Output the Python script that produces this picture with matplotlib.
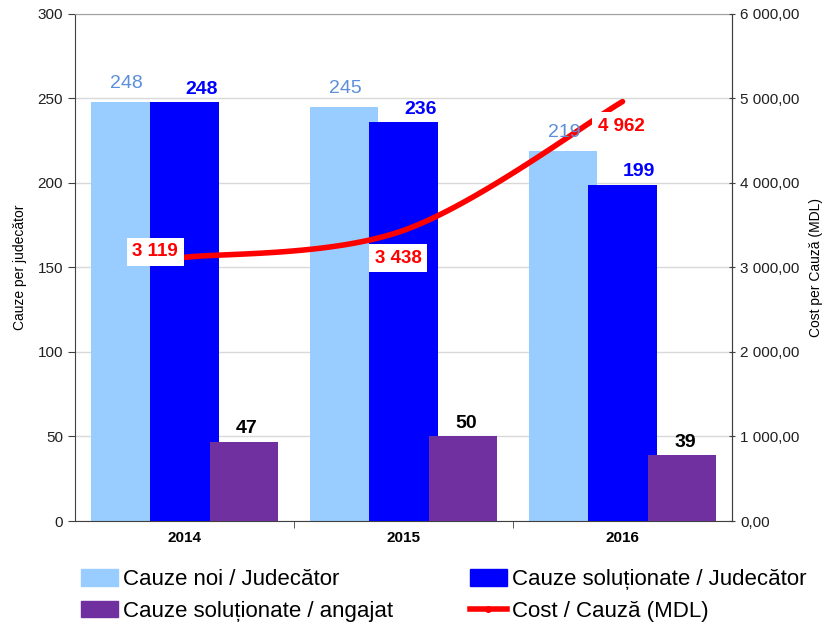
import numpy as np
import matplotlib
matplotlib.use("Agg")
from matplotlib import pyplot as plt
from matplotlib.patches import Patch
from matplotlib.lines import Line2D

plt.rcParams['font.family'] = ['Liberation Sans', 'DejaVu Sans']

years = ['2014', '2015', '2016']
cauze_noi = [248, 245, 219]
cauze_solutionate = [248, 236, 199]
cauze_angajat = [47, 50, 39]
cost_cauza = [3119, 3438, 4962]

c_light = '#99CCFF'
c_dark = '#0000FF'
c_purple = '#7030A0'
c_red = '#FF0000'


def smooth_curve(xs, ys, n=60):
    # bezier segments with catmull-rom style handles (tension 1/6)
    pts = np.column_stack([xs, ys]).astype(float)
    out = []
    for i in range(len(pts) - 1):
        p_prev = pts[max(i - 1, 0)]
        p0, p1 = pts[i], pts[i + 1]
        p_next = pts[min(i + 2, len(pts) - 1)]
        c1 = p0 + (p1 - p_prev) / 6
        c2 = p1 - (p_next - p0) / 6
        t = np.linspace(0, 1, n)[:, None]
        seg = ((1 - t) ** 3) * p0 + 3 * ((1 - t) ** 2) * t * c1 + 3 * (1 - t) * t ** 2 * c2 + t ** 3 * p1
        out.append(seg if i == 0 else seg[1:])
    out = np.vstack(out)
    return out[:, 0], out[:, 1]


fig = plt.figure(figsize=(8.29, 6.3), dpi=100)
ax = fig.add_axes([0.0905, 0.173, 0.7925, 0.805])
ax2 = ax.twinx()

x = np.arange(len(years))
w = 0.313
off = 0.272
ax.bar(x - off, cauze_noi, w, color=c_light, zorder=2)
ax.bar(x, cauze_solutionate, w, color=c_dark, zorder=3)
ax.bar(x + off, cauze_angajat, w, color=c_purple, zorder=4)

ax.set_xlim(-0.5, 2.5)
ax.set_ylim(0, 300)
ax.set_yticks(range(0, 301, 50))
ax.set_xticks(x)
ax.set_xticklabels(years, fontweight='bold', fontsize=11)
ax.set_xticks([0.5, 1.5], minor=True)
ax.tick_params(axis='x', which='major', length=0, pad=7)
ax.tick_params(axis='x', which='minor', length=5, direction='out', color='#404040')
ax.tick_params(axis='y', length=5, direction='out', labelsize=11, color='#404040', labelcolor='#202020')
ax.yaxis.grid(True, color='#D9D9D9', linewidth=1)
ax.set_axisbelow(True)
ax.set_ylabel('Cauze per judecător', fontsize=10, labelpad=8)

for s in ['left', 'bottom', 'right']:
    ax.spines[s].set_color('#404040')
ax.spines['top'].set_color('#A0A0A0')
ax2.spines['right'].set_color('#404040')
ax2.spines['top'].set_visible(False)
ax2.spines['left'].set_visible(False)
ax2.spines['bottom'].set_visible(False)

# cost line on the right axis
lx, ly = smooth_curve(x, cost_cauza)
ax2.plot(lx, ly, color=c_red, linewidth=4, solid_capstyle='round', zorder=3)
ax2.set_ylim(0, 6000)
ax2.set_yticks(range(0, 6001, 1000))
ax2.set_yticklabels([f"{v:,.2f}".replace(',', ' ').replace('.', ',') for v in range(0, 6001, 1000)])
ax2.tick_params(axis='y', length=5, direction='inout', labelsize=11, color='#404040', labelcolor='#202020')
ax2.set_ylabel('Cost per Cauză (MDL)', fontsize=10, rotation=90, labelpad=7)

# bar value labels (drawn on ax2 so they sit above the line)
k = 6000 / 300
for i in range(len(years)):
    ax2.annotate(str(cauze_noi[i]), (x[i] - off, cauze_noi[i] * k), xytext=(1, 7),
                 textcoords='offset points', ha='center', va='bottom', fontsize=14,
                 color='#5B8FD9', zorder=5)
    ax2.annotate(str(cauze_solutionate[i]), (x[i], cauze_solutionate[i] * k), xytext=(12, 3),
                 textcoords='offset points', ha='center', va='bottom', fontsize=14,
                 color=c_dark, fontweight='bold', zorder=5)
    ax2.annotate(str(cauze_angajat[i]), (x[i] + off, cauze_angajat[i] * k), xytext=(2, 3),
                 textcoords='offset points', ha='center', va='bottom', fontsize=14,
                 color='black', fontweight='bold', zorder=5)

# cost labels
cost_offsets = [(-21, 4), (-4, -20), (-1, -18)]
for i, v in enumerate(cost_cauza):
    ax2.annotate(f"{v:,}".replace(',', ' '), (x[i], v), xytext=cost_offsets[i],
                 textcoords='offset points', ha='center', va='center', fontsize=13.5,
                 color=c_red, fontweight='bold', zorder=6,
                 bbox=dict(boxstyle='square,pad=0.3', fc='white', ec='none'))

handles = [
    Patch(color=c_light, label='Cauze noi / Judecător'),
    Patch(color=c_purple, label='Cauze soluționate / angajat'),
    Patch(color=c_dark, label='Cauze soluționate / Judecător'),
    Line2D([0], [0], color=c_red, linewidth=4, marker='o', markersize=4, label='Cost / Cauză (MDL)'),
]
fig.legend(handles=handles, ncol=2, loc='lower left', bbox_to_anchor=(0.073, -0.019),
           frameon=False, handlelength=1.7, handleheight=0.75,
           handletextpad=0.2, columnspacing=3.45, labelspacing=0.48,
           prop={'size': 16})

fig.savefig('out.png', dpi=100)
